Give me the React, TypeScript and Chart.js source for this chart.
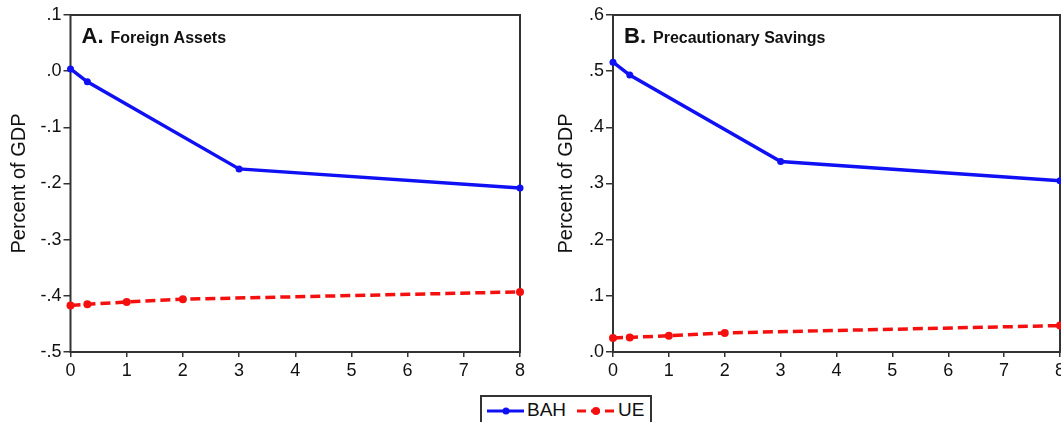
import React, { useEffect, useRef } from "react";
import { Chart, registerables } from "chart.js";

Chart.register(...registerables);

// ---- data ----
const xBAH = [0, 0.3, 3, 8];
const xUE = [0, 0.3, 1, 2, 8];
const foreignBAH = [0.004, -0.019, -0.174, -0.208];
const foreignUE = [-0.417, -0.415, -0.411, -0.406, -0.393];
const savingsBAH = [0.516, 0.493, 0.339, 0.305];
const savingsUE = [0.025, 0.026, 0.029, 0.034, 0.047];
const seriesNames = ["BAH", "UE"];
const panelLetters = ["A.", "B."];
const panelLabels = ["Foreign Assets", "Precautionary Savings"];
const yTitle = "Percent of GDP";

const FONT = "'Liberation Sans', Arial, Helvetica, sans-serif";
const BLUE = "#1010f5";
const RED = "#f51010";
const INK = "#111";

const fmtTick = (v: number) => {
  const n = Math.abs(v) < 1e-9 ? 0 : Number(v);
  const s = n.toFixed(1);
  return s.replace("0.", ".");
};

const decorPlugin = {
  id: "decor",
  beforeDatasetsDraw(chart: any, _args: any, opts: any) {
    const { ctx, chartArea: a } = chart;
    ctx.save();
    ctx.strokeStyle = "#333";
    ctx.lineWidth = 2;
    ctx.strokeRect(a.left, a.top, a.right - a.left, a.bottom - a.top);
    ctx.fillStyle = INK;
    ctx.textBaseline = "alphabetic";
    ctx.textAlign = "left";
    ctx.font = `bold 22px ${FONT}`;
    ctx.fillText(opts.letter, a.left + 11, a.top + 28);
    const w = ctx.measureText(opts.letter).width;
    ctx.font = `bold 16px ${FONT}`;
    ctx.fillText(opts.label, a.left + 11 + w + 7, a.top + 28);
    ctx.restore();
  },
};

type PanelProps = {
  idx: number;
  bah: number[];
  ue: number[];
  yMin: number;
  yMax: number;
  left: number;
  width: number;
  axisWidth: number;
  titlePad: number;
  padRight: number;
};

function Panel(p: PanelProps) {
  const ref = useRef<HTMLCanvasElement | null>(null);
  useEffect(() => {
    if (!ref.current) return;
    const chart = new Chart(ref.current, {
      type: "line",
      data: {
        datasets: [
          {
            label: seriesNames[0],
            data: xBAH.map((x, i) => ({ x, y: p.bah[i] })),
            borderColor: BLUE,
            backgroundColor: BLUE,
            borderWidth: 3.5,
            pointRadius: 3.5,
            pointBorderWidth: 0,
            pointStyle: "circle",
            clip: false as any,
          },
          {
            label: seriesNames[1],
            data: xUE.map((x, i) => ({ x, y: p.ue[i] })),
            borderColor: RED,
            backgroundColor: RED,
            borderWidth: 3.5,
            borderDash: [10, 5],
            pointRadius: 4,
            pointBorderWidth: 0,
            pointStyle: "circle",
            clip: false as any,
          },
        ],
      },
      options: {
        animation: false,
        responsive: false,
        layout: { padding: { top: 15, right: p.padRight, bottom: 30, left: 0 } },
        plugins: {
          legend: { display: false },
          tooltip: { enabled: false },
          decor: { letter: panelLetters[p.idx], label: panelLabels[p.idx] },
        } as any,
        scales: {
          x: {
            type: "linear",
            min: 0,
            max: 8,
            ticks: {
              stepSize: 1,
              font: { family: FONT, size: 18 },
              color: INK,
              padding: 3,
              maxRotation: 0,
              autoSkip: false,
            },
            grid: { drawOnChartArea: false, tickLength: 5, color: "#333", lineWidth: 1.5 },
            border: { display: false },
            afterFit: (s: any) => {
              s.height = 40;
            },
          },
          y: {
            min: p.yMin,
            max: p.yMax,
            ticks: {
              stepSize: 0.1,
              font: { family: FONT, size: 18 },
              color: INK,
              padding: 2,
              callback: (v: any) => fmtTick(v),
            },
            grid: { drawOnChartArea: false, tickLength: 7, color: "#333", lineWidth: 1.5 },
            border: { display: false },
            title: {
              display: true,
              text: yTitle,
              font: { family: FONT, size: 20 },
              color: INK,
              padding: { top: p.titlePad, bottom: 0 },
            },
            afterFit: (s: any) => {
              s.width = p.axisWidth;
            },
          },
        },
      },
      plugins: [decorPlugin],
    });
    return () => chart.destroy();
  }, []);
  return (
    <canvas
      ref={ref}
      width={p.width}
      height={422}
      style={{ position: "absolute", left: p.left, top: 0, width: p.width, height: 422 }}
    />
  );
}

function Legend() {
  return (
    <div
      style={{
        position: "absolute",
        left: 480,
        top: 395,
        width: 172,
        height: 36,
        border: "2px solid #333",
        background: "#fff",
        boxSizing: "border-box",
        fontFamily: FONT,
        fontSize: 19,
        color: INK,
      }}
    >
      <svg width={172} height={36} style={{ position: "absolute", left: 0, top: 0 }}>
        <line x1={5} y1={14} x2={42} y2={14} stroke={BLUE} strokeWidth={3} />
        <circle cx={24} cy={14} r={3.5} fill={BLUE} />
        <line x1={95} y1={14} x2={132} y2={14} stroke={RED} strokeWidth={3} strokeDasharray="9 5" />
        <circle cx={114} cy={14} r={4} fill={RED} />
      </svg>
      <span style={{ position: "absolute", left: 45, top: 3, lineHeight: "20px" }}>{seriesNames[0]}</span>
      <span style={{ position: "absolute", left: 136, top: 3, lineHeight: "20px" }}>{seriesNames[1]}</span>
    </div>
  );
}

export default function App() {
  return (
    <div
      style={{
        position: "fixed",
        left: 0,
        top: 0,
        width: 1061,
        height: 422,
        overflow: "hidden",
        background: "#fff",
      }}
    >
      <Panel idx={0} bah={foreignBAH} ue={foreignUE} yMin={-0.5} yMax={0.1} left={0} width={540} axisWidth={70.5} titlePad={7} padRight={20} />
      <Panel idx={1} bah={savingsBAH} ue={savingsUE} yMin={0} yMax={0.6} left={540} width={530} axisWidth={73} titlePad={14} padRight={10} />
      <Legend />
    </div>
  );
}
